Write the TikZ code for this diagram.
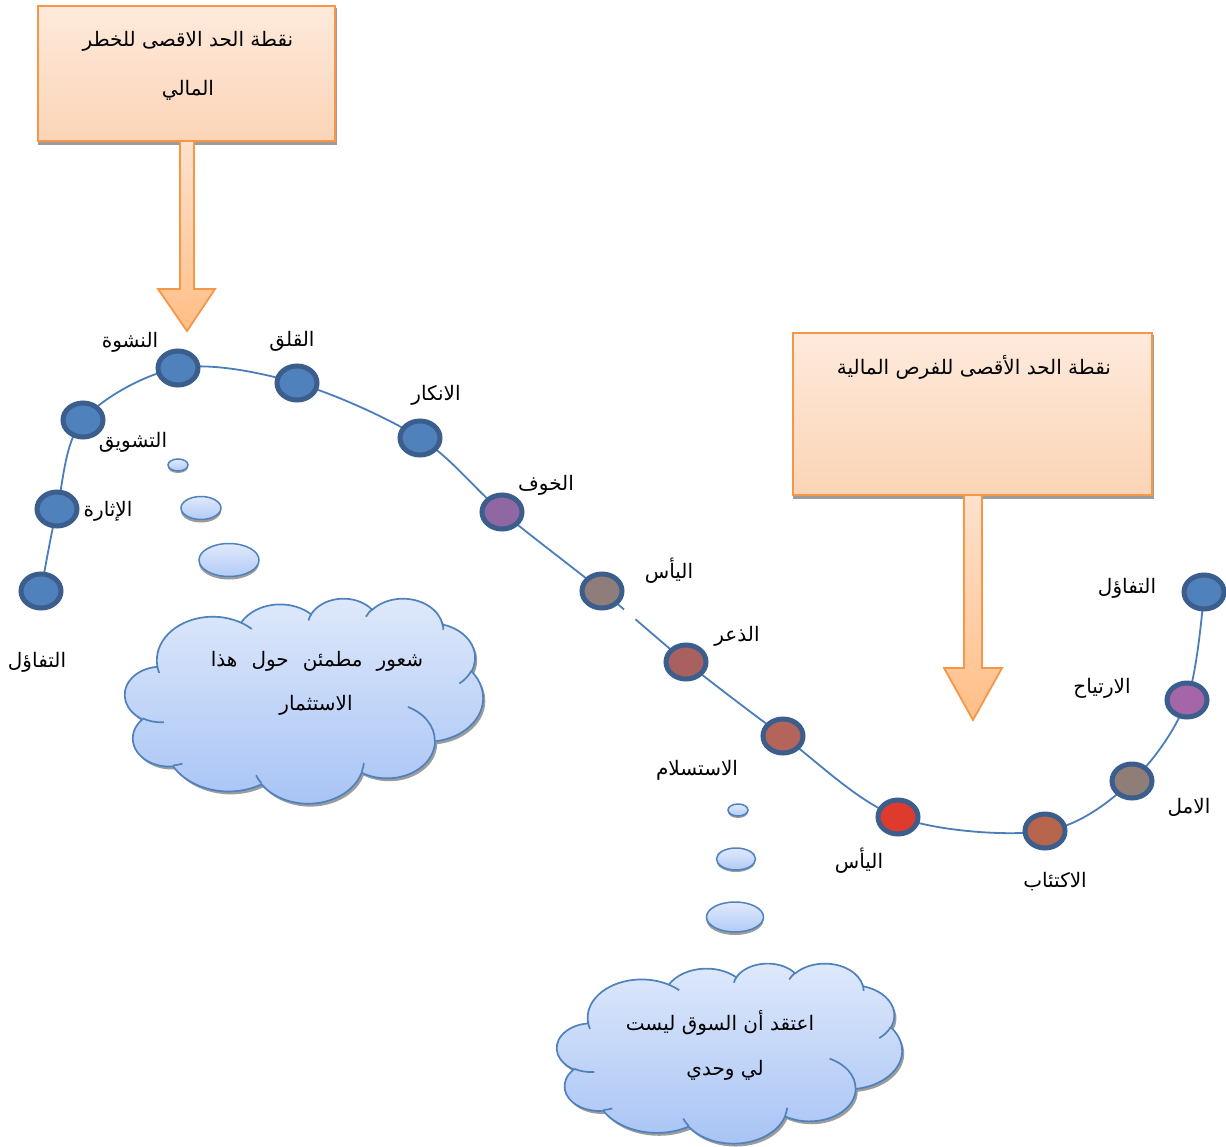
\documentclass[tikz,border=0pt]{standalone}
\usepackage{fontspec}
\newfontfamily\arabicfont[Script=Arabic]{DejaVu Sans}
\TeXXeTstate=1
\usetikzlibrary{shapes.geometric,backgrounds,calc}

\definecolor{nodeedge}{HTML}{3B5E8C}
\definecolor{nblue}{HTML}{4F81BD}
\definecolor{npurple}{HTML}{8E67A3}
\definecolor{nmauve}{HTML}{A466A6}
\definecolor{ngrey}{HTML}{8F7D7B}
\definecolor{nbrick}{HTML}{A9615F}
\definecolor{nrust}{HTML}{B4645A}
\definecolor{nred}{HTML}{DF3A2E}
\definecolor{ncopper}{HTML}{B8654E}
\definecolor{ntaupe}{HTML}{8E7E77}
\definecolor{curveblue}{HTML}{4A7EBB}
\definecolor{peachtop}{HTML}{FEEADC}
\definecolor{peachbot}{HTML}{FBD4B6}
\definecolor{arrowtop}{HTML}{FDE2CE}
\definecolor{arrowbot}{HTML}{FFBE86}
\definecolor{orangeedge}{HTML}{F79646}
\definecolor{cloudtop}{HTML}{DFE9FB}
\definecolor{cloudbot}{HTML}{A7C3F5}
\definecolor{cloudedge}{HTML}{4F81BD}
\definecolor{shadowgrey}{HTML}{9C9C9C}

% Cloud outline on a 100 x 100 grid (y downwards). Every bump is an
% elliptic arc given with a visual start angle and sweep; \cloudprep
% converts them into the parametric angles that TikZ's arc expects.
\newcommand\cloudprep[5]{%
  \pgfmathsetmacro\cpA{atan2((#2)*sin(#4),(#3)*cos(#4))}%
  \pgfmathsetmacro\cpB{atan2((#2)*sin((#4)+(#5)),(#3)*cos((#4)+(#5)))}%
  \pgfmathsetmacro\cpD{\cpB-\cpA}%
  \pgfmathsetmacro\cpD{\cpD+360*(\cpD<0)}%
  \expandafter\let\csname cld#1s\endcsname\cpA
  \expandafter\let\csname cld#1d\endcsname\cpD
}
% outer bumps
\cloudprep{A}{15.632}{21.273}{-190.4875}{123.7805}
\cloudprep{B}{12.345}{16.822}{-144.1024}{89.9452}
\cloudprep{C}{10.104}{13.762}{-145.8079}{99.7230}
\cloudprep{D}{11.243}{15.266}{-130.9861}{117.2417}
\cloudprep{E}{12.345}{16.836}{-78.7089}{109.0269}
\cloudprep{F}{15.683}{21.343}{-46.2673}{130.2690}
\cloudprep{G}{13.391}{18.211}{0.6250}{114.0333}
\cloudprep{H}{15.630}{21.331}{22.4516}{115.1726}
\cloudprep{I}{17.870}{24.405}{66.2426}{75.7110}
\cloudprep{J}{10.093}{13.699}{-274.9421}{146.7356}
\cloudprep{K}{10.058}{13.762}{-246.8285}{152.5189}
% inner creases
\cloudprep{P}{10.058}{13.762}{86.742}{26.430}
\cloudprep{Q}{10.093}{13.699}{73.610}{11.447}
\cloudprep{R}{15.630}{21.331}{137.624}{14.081}
\cloudprep{S}{15.630}{21.331}{6.453}{15.998}
\cloudprep{T}{13.391}{18.211}{-70.292}{70.917}
\cloudprep{U}{12.345}{16.836}{30.318}{27.752}
\cloudprep{V}{11.243}{15.266}{-13.744}{14.859}
\cloudprep{W}{11.243}{15.266}{-149.181}{18.195}
\cloudprep{X}{10.104}{13.762}{-163.494}{17.686}
\cloudprep{Y}{15.632}{21.273}{-66.706}{12.3}
\cloudprep{Z}{15.632}{21.273}{157.63}{11.88}

\newcommand\cloudoutline{(9.028,33.264)
  arc[start angle=\cldAs, delta angle=\cldAd, x radius=15.632, y radius=21.273]
  arc[start angle=\cldBs, delta angle=\cldBd, x radius=12.345, y radius=16.822]
  arc[start angle=\cldCs, delta angle=\cldCd, x radius=10.104, y radius=13.762]
  arc[start angle=\cldDs, delta angle=\cldDd, x radius=11.243, y radius=15.266]
  arc[start angle=\cldEs, delta angle=\cldEd, x radius=12.345, y radius=16.836]
  arc[start angle=\cldFs, delta angle=\cldFd, x radius=15.683, y radius=21.343]
  arc[start angle=\cldGs, delta angle=\cldGd, x radius=13.391, y radius=18.211]
  arc[start angle=\cldHs, delta angle=\cldHd, x radius=15.630, y radius=21.331]
  arc[start angle=\cldIs, delta angle=\cldId, x radius=17.870, y radius=24.405]
  arc[start angle=\cldJs, delta angle=\cldJd, x radius=10.093, y radius=13.699]
  arc[start angle=\cldKs, delta angle=\cldKd, x radius=10.058, y radius=13.762]
  -- cycle}
\newcommand\cloudcreases{
  (10.863,60.595) arc[start angle=\cldPs, delta angle=\cldPd, x radius=10.058, y radius=13.762]
  (16.037,80.785) arc[start angle=\cldQs, delta angle=\cldQd, x radius=10.093, y radius=13.699]
  (38.144,90.486) arc[start angle=\cldRs, delta angle=\cldRd, x radius=15.630, y radius=21.331]
  (66.729,80.442) arc[start angle=\cldSs, delta angle=\cldSd, x radius=15.630, y radius=21.331]
  (79.002,53.134) arc[start angle=\cldTs, delta angle=\cldTd, x radius=13.391, y radius=18.211]
  (96.755,35.542) arc[start angle=\cldUs, delta angle=\cldUd, x radius=12.345, y radius=16.836]
  (88.713,12.560) arc[start angle=\cldVs, delta angle=\cldVd, x radius=11.243, y radius=15.266]
  (67.310,9.148) arc[start angle=\cldWs, delta angle=\cldWd, x radius=11.243, y radius=15.266]
  (51.252,10.926) arc[start angle=\cldXs, delta angle=\cldXd, x radius=10.104, y radius=13.762]
  (32.407,12.019) arc[start angle=\cldYs, delta angle=\cldYd, x radius=15.632, y radius=21.273]
  (9.553,36.549) arc[start angle=\cldZs, delta angle=\cldZd, x radius=15.632, y radius=21.273]}

\tikzset{
  stage/.style={ellipse, draw=nodeedge, line width=5pt, minimum width=40pt,
    minimum height=34pt, inner sep=0pt, fill=#1},
  tag/.style={font=\arabicfont\fontsize{20}{24}\selectfont, inner sep=0pt},
  peakbox/.style={rectangle, draw=orangeedge, line width=1.8pt, inner sep=0pt,
    top color=peachtop, bottom color=peachbot},
  boxshadow/.style={fill=shadowgrey},
  downarrow/.style={draw=orangeedge, line width=1.8pt, line join=miter,
    top color=arrowtop, bottom color=arrowbot},
  curve/.style={draw=curveblue, line width=1.8pt},
  gapmask/.style={fill=white},
  cloudbody/.style={top color=cloudtop, bottom color=cloudbot, draw=cloudedge, line width=1.7pt},
  cloudcrease/.style={draw=cloudedge, line width=1.7pt},
  bubble/.style={top color=cloudtop, bottom color=cloudbot!80!cloudtop, draw=cloudedge, line width=1.5pt},
}

\begin{document}
\begin{tikzpicture}[x=1pt, y=1pt, yscale=-1]
\useasboundingbox (0,0) rectangle (1226,1146);

% the two boxes with their texts
\node[peakbox, minimum width=297pt, minimum height=135pt] (riskbox) at (186.5,73.5) {};
\node[peakbox, minimum width=359pt, minimum height=162pt] (oppbox) at (972.5,414) {};
\node[tag] (risktxt1) at (188,41) {\beginR نقطة الحد الاقصى للخطر\endR};
\node[tag] (risktxt2) at (188,90) {\beginR المالي\endR};
\node[tag] (opptxt) at (974,367) {\beginR نقطة الحد الأقصى للفرص المالية\endR};

% block arrows hanging from the boxes
\path[downarrow] (180,141) -- (180,289) -- (158,289) -- (187,331) -- (215,289)
  -- (194,289) -- (194,141) -- cycle;
\path[downarrow] (964,495) -- (964,668) -- (944,668) -- (973,720) -- (1002,668)
  -- (982,668) -- (982,495) -- cycle;

% stages along the cycle
\node[stage=nblue]   (s1)  at (41,591)  {};
\node[stage=nblue]   (s2)  at (57,509)  {};
\node[stage=nblue]   (s3)  at (83,420)  {};
\node[stage=nblue]   (s4)  at (178,368) {};
\node[stage=nblue]   (s5)  at (297,383) {};
\node[stage=nblue]   (s6)  at (420,438) {};
\node[stage=npurple] (s7)  at (502,512) {};
\node[stage=ngrey]   (s8)  at (602,591) {};
\node[stage=nbrick]  (s9)  at (686,662) {};
\node[stage=nrust]   (s10) at (783,736) {};
\node[stage=nred]    (s11) at (898,817) {};
\node[stage=ncopper] (s12) at (1045,831) {};
\node[stage=ntaupe]  (s13) at (1132,781) {};
\node[stage=nmauve]  (s14) at (1187,700) {};
\node[stage=nblue]   (s15) at (1204,592) {};
\coordinate (gap) at (630,614);

% stage names
\node[tag] (l1)  at (37,662)   {\beginR التفاؤل\endR};
\node[tag] (l2)  at (108,511)  {\beginR الإثارة\endR};
\node[tag] (l3)  at (133,442)  {\beginR التشويق\endR};
\node[tag] (l4)  at (130,342)  {\beginR النشوة\endR};
\node[tag] (l5)  at (292,341)  {\beginR القلق\endR};
\node[tag] (l6)  at (436,395)  {\beginR الانكار\endR};
\node[tag] (l7)  at (546,485)  {\beginR الخوف\endR};
\node[tag] (l8)  at (669,571)  {\beginR اليأس\endR};
\node[tag] (l9)  at (737,636)  {\beginR الذعر\endR};
\node[tag] (l10) at (697,770)  {\beginR الاستسلام\endR};
\node[tag] (l11) at (859,861)  {\beginR اليأس\endR};
\node[tag] (l12) at (1055,882) {\beginR الاكتئاب\endR};
\node[tag] (l13) at (1189,807) {\beginR الامل\endR};
\node[tag] (l14) at (1102,688) {\beginR الارتياح\endR};
\node[tag] (l15) at (1127,588) {\beginR التفاؤل\endR};

% thought bubbles
\fill[shadowgrey] (178,467) ellipse[x radius=10, y radius=6];
\path[bubble] (178,465) ellipse[x radius=10, y radius=6];
\fill[shadowgrey] (201,511) ellipse[x radius=20, y radius=11.5];
\path[bubble] (201,508) ellipse[x radius=20, y radius=11.5];
\fill[shadowgrey] (229,563) ellipse[x radius=30, y radius=16.5];
\path[bubble] (229,560) ellipse[x radius=30, y radius=16.5];

\fill[shadowgrey] (738,812) ellipse[x radius=10, y radius=6];
\path[bubble] (738,810) ellipse[x radius=10, y radius=6];
\fill[shadowgrey] (736,861) ellipse[x radius=19.5, y radius=11];
\path[bubble] (736,859) ellipse[x radius=19.5, y radius=11];
\fill[shadowgrey] (735,920) ellipse[x radius=28.5, y radius=15];
\path[bubble] (735,917) ellipse[x radius=28.5, y radius=15];

% clouds
\begin{scope}[shift={(125,598)}, xscale=3.58, yscale=2.05]
  \fill[shadowgrey, shift={(0.6,1.4)}] \cloudoutline;
  \path[cloudbody] \cloudoutline;
  \path[cloudcrease] \cloudcreases;
\end{scope}
\begin{scope}[shift={(557,963)}, xscale=3.45, yscale=1.80]
  \fill[shadowgrey, shift={(0.6,1.6)}] \cloudoutline;
  \path[cloudbody] \cloudoutline;
  \path[cloudcrease] \cloudcreases;
\end{scope}
\node[tag] (calm1) at (317,661)  {\spaceskip=14pt\relax\beginR شعور مطمئن حول هذا\endR};
\node[tag] (calm2) at (316,705)  {\beginR الاستثمار\endR};
\node[tag] (doubt1) at (720,1023) {\beginR اعتقد أن السوق ليست\endR};
\node[tag] (doubt2) at (725,1070) {\beginR لي وحدي\endR};

\begin{pgfonlayer}{background}
  \fill[white] (0,0) rectangle (1226,1146);
  \fill[boxshadow] ($(riskbox.north west)+(1,3)$) rectangle ($(riskbox.south east)+(1,3)$);
  \fill[boxshadow] ($(oppbox.north west)+(1,3)$) rectangle ($(oppbox.south east)+(1,3)$);
  \draw[curve] plot[smooth, tension=0.55] coordinates {(s1.center) (s2.center) (s3.center)
    (s4.center) (s5.center) (s6.center) (s7.center) (s8.center) (s9.center)
    (s10.center) (s11.center) (s12.center) (s13.center) (s14.center) (s15.center)};
  % small break in the line below the first despair stage
  \fill[gapmask] (gap) circle[radius=7.5];
\end{pgfonlayer}
\end{tikzpicture}
\end{document}
